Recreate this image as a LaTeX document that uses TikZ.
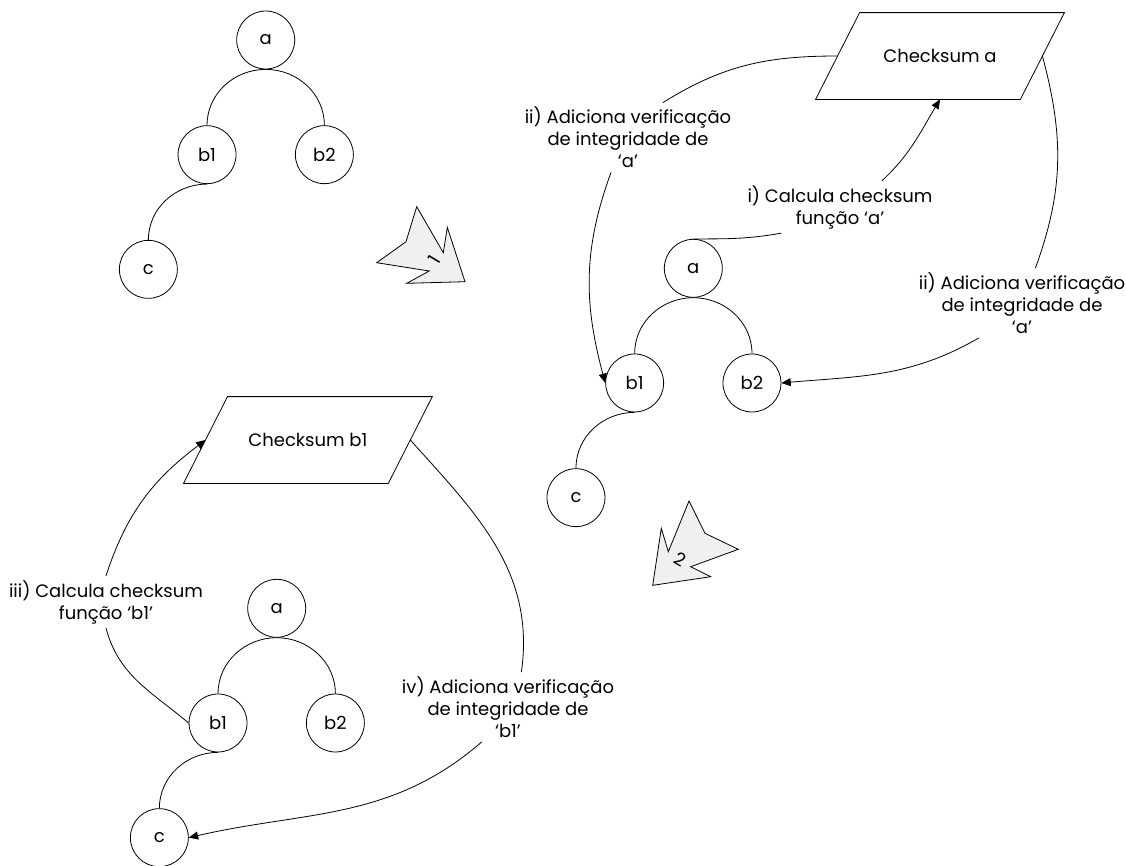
\documentclass[tikz,border=0pt]{standalone}
\usepackage{fontspec}
\setmainfont{Poppins}
\usetikzlibrary{arrows.meta, positioning}

\begin{document}
\begin{tikzpicture}[
    x=0.75pt, y=-0.75pt,
    line width=0.6pt,
    node distance=86pt and 44pt,
    on grid,
    every node/.style={font=\fontsize{13.5}{16.5}\selectfont},
    vert/.style={circle, draw, minimum size=43.5pt, inner sep=0pt},
    chk/.style={rectangle, minimum width=153pt, minimum height=64.5pt, inner sep=0pt},
    lbl/.style={align=center, inner sep=3pt},
    arr/.style={-{Triangle[length=7pt,width=6pt]}},
    phase/.style={draw, fill=black!6, line join=miter}
]
    \useasboundingbox (0,0) rectangle (1126,865);

    % tree before step 1
    \node[vert]                    (la)  at (265.7,40) {a};
    \node[vert, below left=of la]  (lb1) {b1};
    \node[vert, below right=of la] (lb2) {b2};
    \node[vert, below left=of lb1] (lc)  {c};
    \draw (la.south)  to[out=180,in=90] (lb1.north);
    \draw (la.south)  to[out=0,in=90]   (lb2.north);
    \draw (lb1.south) to[out=180,in=90] (lc.north);

    % step 1
    \draw[phase] (416.7,206.7) -- (443.3,252.7) -- (447.3,227.3) -- (465,281.7)
        -- (406.7,283.3) -- (429.3,271) -- (376.7,262.7) -- (406,241.7) -- cycle;
    \node[rotate=59] (one) at (434,260) {1};

    % tree with checksum of a
    \node[vert]                    (ra)  at (693.3,268.3) {a};
    \node[vert, below left=of ra]  (rb1) {b1};
    \node[vert, below right=of ra] (rb2) {b2};
    \node[vert, below left=of rb1] (rc)  {c};
    \draw (ra.south)  to[out=180,in=90] (rb1.north);
    \draw (ra.south)  to[out=0,in=90]   (rb2.north);
    \draw (rb1.south) to[out=180,in=90] (rc.north);

    \node[chk] (cka) at (940,56) {Checksum a};
    \draw ([xshift=-16.5pt]cka.south west) -- ([xshift=-16.5pt]cka.south east)
       -- ([xshift=16.5pt]cka.north east) -- ([xshift=16.5pt]cka.north west) -- cycle;
    \node[lbl] (li)   at (840,207)  {i) Calcula checksum\\função ‘a’};
    \node[lbl] (liiL) at (628,137.5) {ii) Adiciona verificação\\de integridade de\\‘a’};
    \node[lbl] (liiR) at (1022,303) {ii) Adiciona verificação\\de integridade de\\‘a’};

    \draw      (ra.north) to[out=0,in=190] (li.204);
    \draw[arr] (li.32)    to[out=43,in=239] (cka.south);
    \draw      (cka.west) to[out=180,in=32] (liiL.45);
    \draw[arr] (liiL.244) to[out=250,in=105] (rb1.west);
    \draw      (cka.east) to[out=-75,in=70] (liiR.69);
    \draw[arr] (liiR.219) to[out=210,in=5] (rb2.east);

    % step 2
    \draw[phase] (689,501) -- (705,533.3) -- (738.3,549.3) -- (690.7,566.7)
        -- (710.7,576.7) -- (652.7,585.3) -- (661.3,528.3) -- (668.3,551.7) -- cycle;
    \node[rotate=-30] (two) at (680,559.3) {2};

    % tree with checksum of b1
    \node[vert]                    (ba)  at (276.7,608.3) {a};
    \node[vert, below left=of ba]  (bb1) {b1};
    \node[vert, below right=of ba] (bb2) {b2};
    \node[vert, below left=of bb1] (bc)  {c};
    \draw (ba.south)  to[out=180,in=90] (bb1.north);
    \draw (ba.south)  to[out=0,in=90]   (bb2.north);
    \draw (bb1.south) to[out=180,in=90] (bc.north);

    \node[chk] (ckb) at (307.9,440) {Checksum b1};
    \draw ([xshift=-16.5pt]ckb.south west) -- ([xshift=-16.5pt]ckb.south east)
       -- ([xshift=16.5pt]ckb.north east) -- ([xshift=16.5pt]ckb.north west) -- cycle;
    \node[lbl] (liii) at (106,602)  {iii) Calcula checksum\\função ‘b1’};
    \node[lbl] (liv)  at (508,707)  {iv) Adiciona verificação\\de integridade de\\‘b1’};

    \draw[arr] (liii.north) to[out=72,in=217] (ckb.west);
    \draw      (liii.south) to[out=-75,in=140] (bb1.west);
    \draw      (ckb.east) to[out=-48,in=82] (liv.69);
    \draw[arr] (liv.233) to[out=221,in=13] (bc.east);
\end{tikzpicture}
\end{document}
